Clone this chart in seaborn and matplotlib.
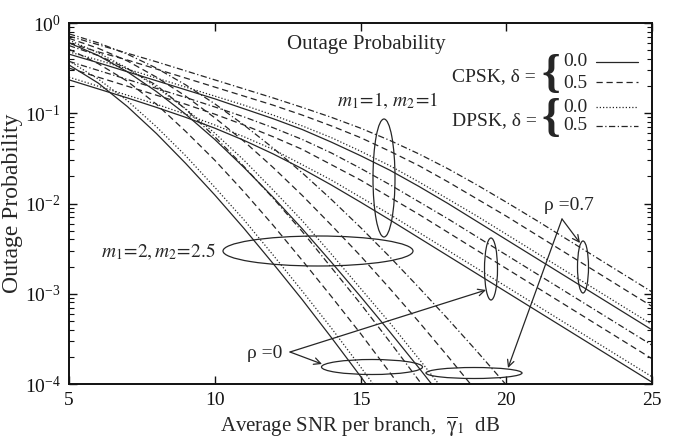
import numpy as np
import pandas as pd
import matplotlib
matplotlib.use("Agg")
import matplotlib.pyplot as plt
import seaborn as sns
from matplotlib.patches import Ellipse

# ---------------- data (log10 of outage probability) -------------
snr_db = [5, 6, 7, 8, 9, 10, 11, 12, 13, 14, 15, 16, 17, 18, 19, 20, 21, 22, 23, 24, 25]

# m1 = 1, m2 = 1
m1_rho0_cpsk00 = [-0.63, -0.73, -0.83, -0.935, -1.045, -1.165, -1.30, -1.45, -1.615, -1.795, -1.985,
                  -2.18, -2.38, -2.58, -2.78, -2.98, -3.18, -3.38, -3.58, -3.78, -3.98]
m1_rho0_dpsk00 = [-0.60, -0.70, -0.80, -0.90, -1.01, -1.13, -1.26, -1.40, -1.57, -1.74, -1.93,
                  -2.12, -2.32, -2.52, -2.72, -2.92, -3.12, -3.32, -3.52, -3.72, -3.92]
m1_rho0_cpsk05 = [-0.50, -0.60, -0.70, -0.80, -0.90, -1.01, -1.13, -1.26, -1.40, -1.57, -1.74,
                  -1.93, -2.12, -2.32, -2.52, -2.72, -2.92, -3.12, -3.32, -3.52, -3.72]
m1_rho0_dpsk05 = [-0.425, -0.525, -0.625, -0.725, -0.825, -0.93, -1.04, -1.16, -1.29, -1.44, -1.61,
                  -1.79, -1.98, -2.17, -2.37, -2.57, -2.77, -2.97, -3.17, -3.37, -3.57]
m1_rho7_cpsk00 = [-0.345, -0.44, -0.54, -0.64, -0.74, -0.84, -0.95, -1.06, -1.18, -1.32, -1.47,
                  -1.63, -1.81, -2.00, -2.20, -2.40, -2.60, -2.80, -3.00, -3.20, -3.40]
m1_rho7_dpsk00 = [-0.32, -0.41, -0.51, -0.61, -0.71, -0.81, -0.91, -1.02, -1.14, -1.27, -1.42,
                  -1.58, -1.76, -1.95, -2.14, -2.34, -2.54, -2.74, -2.94, -3.14, -3.34]
m1_rho7_cpsk05 = [-0.22, -0.32, -0.41, -0.51, -0.61, -0.71, -0.81, -0.91, -1.02, -1.14, -1.27,
                  -1.42, -1.58, -1.76, -1.95, -2.14, -2.34, -2.54, -2.74, -2.94, -3.14]
m1_rho7_dpsk05 = [-0.145, -0.24, -0.335, -0.43, -0.53, -0.63, -0.73, -0.83, -0.935, -1.045, -1.165,
                  -1.30, -1.45, -1.615, -1.795, -1.985, -2.18, -2.38, -2.58, -2.78, -2.98]

# m1 = 2, m2 = 2.5 (curves leave the axes at 1e-4)
m2_rho0_cpsk00 = [-0.465, -0.665, -0.925, -1.225, -1.555, -1.905, -2.275, -2.665, -3.065, -3.485,
                  -3.915, -4.355]
m2_rho0_dpsk00 = [-0.42, -0.62, -0.86, -1.15, -1.47, -1.82, -2.18, -2.57, -2.97, -3.38, -3.81, -4.25]
m2_rho0_cpsk05 = [-0.29, -0.45, -0.645, -0.90, -1.20, -1.52, -1.87, -2.24, -2.63, -3.03, -3.44,
                  -3.87, -4.31]
m2_rho0_dpsk05 = [-0.25, -0.36, -0.505, -0.69, -0.955, -1.26, -1.59, -1.94, -2.31, -2.71, -3.11,
                  -3.53, -3.96, -4.40]
m2_rho7_cpsk00 = [-0.22, -0.36, -0.54, -0.76, -1.01, -1.29, -1.60, -1.93, -2.28, -2.65, -3.03,
                  -3.42, -3.82, -4.23]
m2_rho7_dpsk00 = [-0.19, -0.33, -0.50, -0.71, -0.95, -1.22, -1.52, -1.85, -2.19, -2.56, -2.94,
                  -3.32, -3.72, -4.13]
m2_rho7_cpsk05 = [-0.17, -0.28, -0.42, -0.60, -0.81, -1.05, -1.31, -1.60, -1.91, -2.24, -2.58,
                  -2.94, -3.31, -3.695, -4.09]
m2_rho7_dpsk05 = [-0.12, -0.22, -0.345, -0.50, -0.685, -0.895, -1.13, -1.385, -1.66, -1.955, -2.265,
                  -2.59, -2.93, -3.28, -3.64, -4.01, -4.39]

curves = {
    "m1_rho0_cpsk00": ("CPSK 0.0", m1_rho0_cpsk00),
    "m1_rho0_dpsk00": ("DPSK 0.0", m1_rho0_dpsk00),
    "m1_rho0_cpsk05": ("CPSK 0.5", m1_rho0_cpsk05),
    "m1_rho0_dpsk05": ("DPSK 0.5", m1_rho0_dpsk05),
    "m1_rho7_cpsk00": ("CPSK 0.0", m1_rho7_cpsk00),
    "m1_rho7_dpsk00": ("DPSK 0.0", m1_rho7_dpsk00),
    "m1_rho7_cpsk05": ("CPSK 0.5", m1_rho7_cpsk05),
    "m1_rho7_dpsk05": ("DPSK 0.5", m1_rho7_dpsk05),
    "m2_rho0_cpsk00": ("CPSK 0.0", m2_rho0_cpsk00),
    "m2_rho0_dpsk00": ("DPSK 0.0", m2_rho0_dpsk00),
    "m2_rho0_cpsk05": ("CPSK 0.5", m2_rho0_cpsk05),
    "m2_rho0_dpsk05": ("DPSK 0.5", m2_rho0_dpsk05),
    "m2_rho7_cpsk00": ("CPSK 0.0", m2_rho7_cpsk00),
    "m2_rho7_dpsk00": ("DPSK 0.0", m2_rho7_dpsk00),
    "m2_rho7_cpsk05": ("CPSK 0.5", m2_rho7_cpsk05),
    "m2_rho7_dpsk05": ("DPSK 0.5", m2_rho7_dpsk05),
}

rows = []
for name, (scheme, vals) in curves.items():
    for x, v in zip(snr_db, vals):
        rows.append({"snr": x, "P": 10.0 ** v, "curve": name, "scheme": scheme})
df = pd.DataFrame(rows)

# ---------------- style ----------------
sns.set_style("ticks")
plt.rcParams["font.family"] = ["Liberation Serif", "DejaVu Serif"]
plt.rcParams["mathtext.fontset"] = "stix"
plt.rcParams["axes.linewidth"] = 1.4

LC = "#262626"
dash_map = {"CPSK 0.0": "", "CPSK 0.5": (5, 3), "DPSK 0.0": (1, 1.6), "DPSK 0.5": (5, 2, 1, 2)}

fig = plt.figure(figsize=(6.8, 4.41), dpi=100)
L, R, T, B = 69, 652, 23, 384
W, H = 680, 441
ax = fig.add_axes([L / W, 1 - B / H, (R - L) / W, (B - T) / H])

sns.lineplot(data=df, x="snr", y="P", units="curve", estimator=None, style="scheme",
             dashes=dash_map, color=LC, linewidth=0.9, legend=False, sort=True, ax=ax)

ax.set_yscale("log")
ax.set_xlim(5, 25)
ax.set_ylim(1e-4, 1)
ax.set_xticks([5, 10, 15, 20, 25])
ax.set_xticklabels(["5", "10", "15", "20", "25"])
ax.tick_params(axis="both", which="both", direction="in", top=True, right=True,
               labelsize=14, colors="#111111")
ax.tick_params(axis="both", which="major", length=6, width=1.0, pad=6)
ax.tick_params(axis="y", which="minor", length=3.5, width=0.8)
ax.tick_params(axis="x", which="minor", bottom=False, top=False)
for s in ax.spines.values():
    s.set_color("#111111")

ax.set_xlabel(r"Average SNR per branch,  $\overline{\mathrm{\gamma}}_1$  dB", fontsize=15, labelpad=4)
ax.set_ylabel("Outage Probability", fontsize=17, labelpad=1)


def P(px, py):
    return ((px - L) / (R - L), (B - py) / (B - T))


def txt(px, py, s, **kw):
    ax.text(*P(px, py), s, transform=ax.transAxes, **kw)


txt(366, 45, "Outage Probability", fontsize=15, ha="center", va="center")

# legend block
txt(494, 77, "CPSK, δ =", fontsize=14, ha="center", va="center")
txt(494, 121, "DPSK, δ =", fontsize=14, ha="center", va="center")
txt(551, 75, "{", fontsize=34, ha="center", va="center", fontweight="bold")
txt(551, 119, "{", fontsize=34, ha="center", va="center", fontweight="bold")
for py, lab in [(62, "0.0"), (83, "0.5"), (107, "0.0"), (126, "0.5")]:
    txt(575, py, lab, fontsize=14, ha="center", va="center")
for py, scheme in [(62, "CPSK 0.0"), (82, "CPSK 0.5"), (107, "DPSK 0.0"), (126, "DPSK 0.5")]:
    x0, y0 = P(596, py)
    x1, _ = P(638, py)
    ln, = ax.plot([x0, x1], [y0, y0], transform=ax.transAxes, color=LC, lw=0.9)
    if dash_map[scheme]:
        ln.set_dashes(dash_map[scheme])

# annotation labels
txt(388, 101, r"$m_1\!=\!1,\, m_2\!=\!1$", fontsize=14, ha="center", va="center")
txt(158, 252, r"$m_1\!=\!2, m_2\!=\!2.5$", fontsize=14, ha="center", va="center")
txt(265, 354, "ρ =0", fontsize=14, ha="center", va="center")
txt(569, 205, "ρ =0.7", fontsize=14, ha="center", va="center")

# ellipses (center px, width px, height px)
for cx, cy, ew, eh in [(384, 178, 22, 118), (318, 251, 190, 30), (491, 269, 13, 62),
                       (583, 267, 11, 52), (372, 367, 101, 15), (474, 373, 96, 11)]:
    e = Ellipse(P(cx, cy), ew / (R - L), eh / (B - T), transform=ax.transAxes,
                fill=False, edgecolor=LC, lw=0.9)
    ax.add_patch(e)

# arrows
for (ox, oy), (tx, ty) in [((290, 352), (486, 290)), ((290, 352), (322, 364)),
                           ((562, 219), (580, 243)), ((562, 219), (508, 368))]:
    ax.annotate("", xy=P(tx, ty), xytext=P(ox, oy), xycoords="axes fraction",
                textcoords="axes fraction",
                arrowprops=dict(arrowstyle="->", color=LC, lw=0.9, mutation_scale=12,
                                shrinkA=0, shrinkB=0))

fig.savefig("out.png", dpi=100, facecolor="white")
